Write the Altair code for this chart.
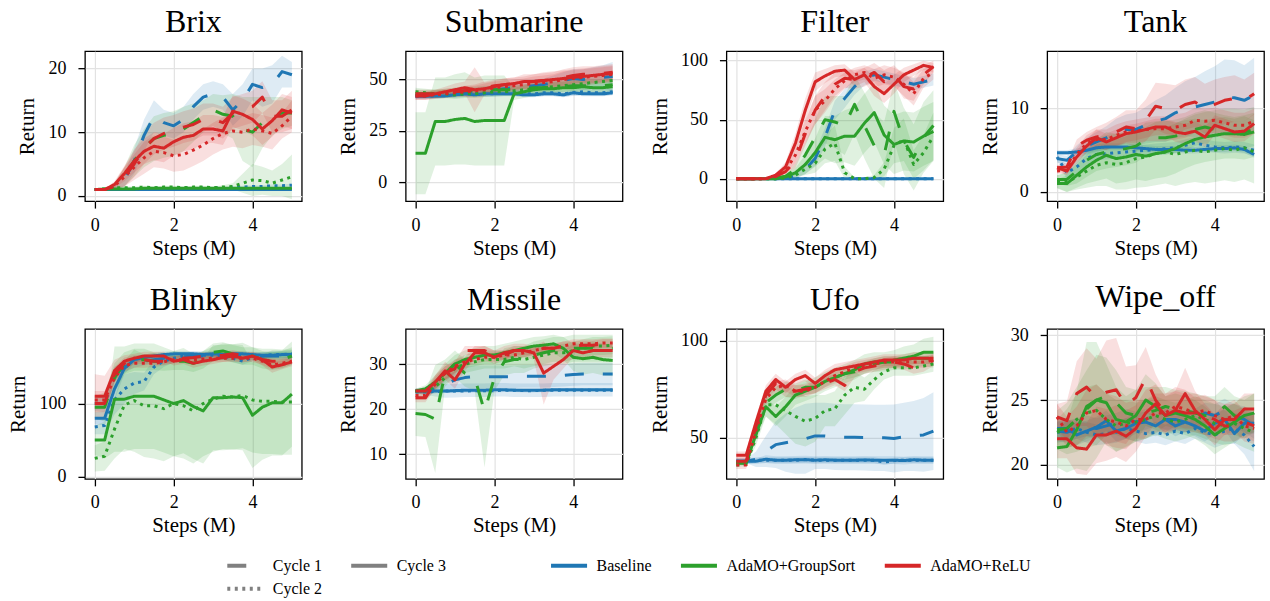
import altair as alt
import pandas as pd

STEPS = [0.0, 0.25, 0.5, 0.75, 1.0, 1.25, 1.5, 1.75, 2.0, 2.25, 2.5,
         2.75, 3.0, 3.25, 3.5, 3.75, 4.0, 4.25, 4.5, 4.75, 5.0]

METHODS = ["Baseline", "AdaMO+GroupSort", "AdaMO+ReLU"]
METHOD_COLORS = ["#1f77b4", "#2ca02c", "#d62728"]
METHOD_BY_CODE = {"B": "Baseline", "G": "AdaMO+GroupSort", "R": "AdaMO+ReLU"}
CYCLE_ORDER = ["Cycle 1", "Cycle 3", "Cycle 2"]
CYCLE_DASHES = [[19, 19], [1, 0], [3, 4.5]]
SERIES = ["B1", "B2", "B3", "G1", "G2", "G3", "R1", "R2", "R3"]

# ---------------- Brix ----------------
BRIX_MEAN = {
    "B1": [1.0, 1.0, 1.3, 2.5, 5.5, 9.5, 12.5, 11.5, 11.0, 12.0, 14.0, 15.5, 16.0, 15.5, 13.5, 15.0, 17.5, 17.0, 17.5, 19.5, 19.0],
    "B2": [1.0, 1.0, 1.0, 1.1, 1.1, 1.1, 1.2, 1.2, 1.2, 1.2, 1.3, 1.3, 1.3, 1.3, 1.4, 1.4, 1.5, 1.5, 1.6, 1.6, 1.7],
    "B3": [1.0, 1.0, 1.0, 1.0, 1.0, 1.0, 1.0, 1.0, 1.0, 1.0, 1.0, 1.0, 1.0, 1.0, 1.0, 1.0, 1.0, 1.0, 1.0, 1.0, 1.0],
    "G1": [1.0, 1.0, 1.5, 3.0, 5.5, 7.5, 9.0, 9.5, 9.8, 10.5, 11.5, 12.5, 13.5, 12.8, 12.5, 10.5, 10.0, 11.5, 12.5, 13.0, 13.0],
    "G2": [1.0, 1.1, 1.3, 1.3, 1.3, 1.4, 1.3, 1.4, 1.4, 1.3, 1.4, 1.4, 1.3, 1.4, 1.5, 2.0, 2.5, 2.4, 2.0, 2.5, 3.0],
    "G3": [1.0, 1.1, 1.1, 1.1, 1.1, 1.2, 1.2, 1.2, 1.2, 1.2, 1.2, 1.2, 1.2, 1.2, 1.2, 1.2, 1.2, 1.2, 1.2, 1.2, 1.2],
    "R1": [1.0, 1.0, 1.5, 3.0, 5.0, 7.5, 9.0, 9.8, 10.2, 10.8, 11.2, 12.0, 12.0, 11.5, 13.0, 13.5, 14.0, 15.5, 12.5, 12.5, 13.5],
    "R2": [1.0, 1.0, 1.6, 3.0, 4.5, 6.0, 7.0, 6.8, 6.3, 6.5, 7.2, 8.0, 9.0, 9.8, 10.2, 10.0, 10.5, 10.2, 9.8, 11.0, 12.5],
    "R3": [1.0, 1.0, 1.8, 3.5, 5.5, 7.0, 7.8, 7.5, 8.5, 9.2, 9.5, 10.5, 10.5, 10.2, 13.3, 12.8, 12.0, 10.5, 11.8, 13.5, 13.0],
}
BRIX_SD = {
    "B1": [0.1, 0.1, 0.3, 1.0, 2.0, 2.5, 2.5, 2.0, 2.0, 2.0, 2.0, 2.0, 2.0, 2.0, 2.5, 2.5, 2.5, 3.0, 3.0, 2.5, 2.0],
    "B2": [0.05, 0.05, 0.1, 0.1, 0.1, 0.1, 0.1, 0.1, 0.1, 0.1, 0.1, 0.1, 0.1, 0.1, 0.1, 0.2, 0.2, 0.2, 0.2, 0.2, 0.2],
    "B3": [0.05, 0.05, 0.05, 0.05, 0.05, 0.05, 0.05, 0.05, 0.05, 0.05, 0.05, 0.05, 0.05, 0.05, 0.05, 0.05, 0.05, 0.05, 0.05, 0.05, 0.05],
    "G1": [0.1, 0.1, 0.5, 1.5, 2.5, 3.0, 3.5, 3.5, 3.5, 3.5, 3.0, 2.5, 2.5, 3.0, 3.5, 5.0, 5.5, 4.0, 3.0, 2.5, 2.0],
    "G2": [0.1, 0.1, 0.2, 0.2, 0.2, 0.2, 0.2, 0.2, 0.2, 0.2, 0.2, 0.2, 0.2, 0.3, 0.5, 1.5, 2.5, 2.2, 2.0, 2.5, 3.5],
    "G3": [0.05, 0.1, 0.1, 0.1, 0.1, 0.1, 0.1, 0.1, 0.1, 0.1, 0.1, 0.1, 0.1, 0.1, 0.1, 0.1, 0.1, 0.1, 0.1, 0.1, 0.1],
    "R1": [0.1, 0.1, 0.5, 1.5, 2.0, 2.5, 2.5, 2.5, 2.5, 2.5, 2.5, 2.5, 2.5, 2.5, 2.5, 2.5, 2.5, 2.5, 2.5, 2.5, 3.0],
    "R2": [0.1, 0.1, 0.5, 1.5, 2.0, 2.5, 2.5, 2.5, 2.5, 2.5, 2.5, 2.5, 2.5, 2.5, 2.5, 2.5, 2.5, 2.5, 2.5, 2.0, 2.5],
    "R3": [0.1, 0.1, 0.5, 1.2, 1.8, 2.0, 2.2, 2.2, 2.2, 2.2, 2.2, 2.2, 2.2, 2.2, 2.5, 2.5, 2.5, 2.5, 2.5, 2.5, 2.5],
}

# ---------------- Submarine ----------------
SUB_MEAN = {
    "B1": [42, 42, 42.5, 43, 43.5, 43.5, 44, 44.5, 45, 45.5, 46, 46.5, 47, 47.5, 48.5, 49.5, 50.5, 50, 50.5, 51, 51.5],
    "B2": [42, 42, 42, 42.5, 42.5, 43, 43, 43, 43, 43.5, 43.5, 43, 43, 43.5, 43.5, 43, 43.5, 44, 43.5, 43.5, 44],
    "B3": [42, 42, 42, 42, 42.5, 43, 42.5, 43, 43, 43, 43, 42.5, 42.5, 43, 43, 42.5, 43.5, 43, 43, 43, 43.5],
    "G1": [43, 43, 43, 43.5, 44, 44.5, 44.5, 45, 45, 45, 45, 45.5, 46, 46, 46.5, 46.5, 47, 47, 47, 47, 47.5],
    "G2": [44, 43.5, 43, 43, 42.5, 43, 43, 43.5, 44, 44, 44.5, 45, 45.5, 46, 46.5, 47, 47.5, 48, 48.5, 49, 49.5],
    "G3": [14, 14, 29.5, 29.5, 30.5, 31, 29.5, 30, 30, 30, 43, 44, 45, 45.5, 45.5, 46, 46, 46.5, 46, 46, 46.5],
    "R1": [43, 43, 43, 43.5, 44, 44.5, 45, 46, 47, 47.5, 48, 48.5, 49, 49.5, 50, 51, 52, 52.5, 52.5, 53, 53.5],
    "R2": [42, 42, 42.5, 43, 43.5, 44, 44.5, 45, 46, 46.5, 47, 47.5, 48, 48.5, 49, 50, 50.5, 51, 51.5, 52, 52.5],
    "R3": [42, 42, 43, 44, 45, 46, 45, 45.5, 46.5, 47.5, 48, 49, 49, 49.5, 50, 50.5, 51, 51.5, 52, 52.5, 53],
}
SUB_SD = {
    "B1": [1.5, 1.5, 1.5, 1.5, 1.5, 1.5, 2, 2, 2, 2, 2.5, 2.5, 3, 3, 3.5, 4, 4.5, 5, 5.5, 6, 7],
    "B2": [1.5, 1.5, 1.5, 1.5, 1.5, 1.5, 1.5, 1.5, 1.5, 1.5, 1.5, 1.5, 1.5, 1.5, 1.5, 1.5, 1.5, 1.5, 1.5, 1.5, 1.5],
    "B3": [1.2, 1.2, 1.2, 1.2, 1.2, 1.2, 1.2, 1.2, 1.2, 1.2, 1.2, 1.2, 1.2, 1.2, 1.2, 1.2, 1.2, 1.2, 1.2, 1.2, 1.2],
    "G1": [2, 2, 2, 2, 2, 2, 2, 2, 2, 2, 2, 2, 2.5, 2.5, 2.5, 2.5, 3, 3, 3, 3, 3],
    "G2": [2, 2, 2, 2, 2, 2, 2, 2, 2, 2, 2.5, 2.5, 2.5, 2.5, 3, 3, 3, 3, 3, 3, 3],
    "G3": [20, 20, 21.5, 21.5, 22, 22.5, 21.5, 22, 22, 22, 3, 3, 3, 3, 3, 3, 3, 3, 3, 3, 3],
    "R1": [2, 2, 2, 2, 2, 2.5, 2.5, 3, 3, 3, 3, 3, 3.5, 3.5, 3.5, 4, 4, 4, 4, 4, 4],
    "R2": [2, 2, 2, 2, 2, 2.5, 2.5, 3, 3, 3, 3, 3, 3.5, 3.5, 3.5, 4, 4, 4, 4, 4, 4],
    "R3": [2, 2, 2, 2.5, 3, 3, 11, 3, 3, 3, 3, 3.5, 3.5, 4, 4, 4, 4, 4, 4, 4, 4],
}

# ---------------- Filter ----------------
FILTER_MEAN = {
    "B1": [0, 0, 0, 0, 0, 0.5, 2, 8, 17, 35, 58, 68, 78, 85, 88, 86, 84, 82, 80, 82, 84],
    "B2": [0, 0, 0, 0, 0, 0, 0, 0, 0, 0, 0, 0, 0, 0, 0, 0, 0, 0, 0, 0, 0],
    "B3": [0, 0, 0, 0, 0, 0, 0, 0, 0, 0, 0, 0, 0, 0, 0, 0, 0, 0, 0, 0, 0],
    "G1": [0, 0, 0, 0, 0.5, 2, 8, 20, 35, 50, 48, 45, 63, 45, 28, 20, 57, 32, 18, 35, 45],
    "G2": [0, 0, 0, 0, 0, 0.5, 3, 8, 13, 25, 30, 5, 0, 0, 1, 8, 28, 33, 12, 22, 36],
    "G3": [0, 0, 0, 0, 0, 1.5, 5, 12, 22, 35, 33, 36, 36, 47, 56, 37, 29, 32, 31, 36, 40],
    "R1": [0, 0, 0, 0, 2, 6, 15, 38, 58, 70, 80, 85, 84, 86, 90, 82, 88, 78, 76, 88, 95],
    "R2": [0, 0, 0, 0, 2, 7, 20, 40, 58, 66, 76, 83, 88, 90, 85, 88, 86, 80, 72, 85, 90],
    "R3": [0, 0, 0, 0, 3, 10, 30, 58, 82, 87, 91, 92, 84, 88, 78, 72, 80, 88, 92, 96, 94],
}
FILTER_SD = {
    "B1": [0, 0, 0, 0, 0, 0.5, 2, 4, 6, 8, 8, 8, 7, 6, 5, 5, 5, 5, 5, 5, 5],
    "B2": [0.3, 0.3, 0.3, 0.3, 0.3, 0.3, 0.3, 0.3, 0.3, 0.3, 0.3, 0.3, 0.3, 0.3, 0.3, 0.3, 0.3, 0.3, 0.3, 0.3, 0.3],
    "B3": [0.3, 0.3, 0.3, 0.3, 0.3, 0.3, 0.3, 0.3, 0.3, 0.3, 0.3, 0.3, 0.3, 0.3, 0.3, 0.3, 0.3, 0.3, 0.3, 0.3, 0.3],
    "G1": [0, 0, 0, 0, 0.5, 1.5, 5, 10, 15, 20, 22, 25, 25, 28, 28, 28, 25, 28, 28, 30, 30],
    "G2": [0, 0, 0, 0, 0, 0.5, 2, 5, 8, 12, 15, 5, 1, 1, 2, 6, 15, 18, 12, 15, 20],
    "G3": [0, 0, 0, 0, 0.5, 1.5, 4, 8, 12, 18, 20, 22, 25, 25, 25, 25, 25, 25, 25, 25, 25],
    "R1": [0, 0, 0, 0, 1, 3, 6, 10, 12, 12, 10, 8, 8, 8, 8, 10, 8, 10, 10, 8, 5],
    "R2": [0, 0, 0, 0, 1, 3, 7, 10, 12, 10, 8, 7, 6, 6, 8, 8, 8, 10, 10, 8, 6],
    "R3": [0, 0, 0, 0, 1.5, 4, 8, 10, 8, 6, 5, 5, 6, 6, 8, 8, 8, 6, 5, 4, 4],
}

# ---------------- Tank ----------------
TANK_MEAN = {
    "B1": [4.0, 3.8, 4.8, 5.5, 6.0, 6.5, 7.2, 7.5, 7.5, 8.0, 8.5, 8.8, 9.5, 10.0, 10.2, 10.5, 10.8, 11.4, 11.3, 11.0, 11.6],
    "B2": [4.2, 2.3, 3.0, 4.0, 4.5, 4.6, 4.7, 4.8, 4.9, 5.0, 5.1, 5.2, 5.3, 5.6, 5.9, 5.6, 5.4, 5.3, 5.4, 5.3, 5.0],
    "B3": [4.7, 4.7, 4.8, 5.0, 5.3, 5.4, 5.4, 5.4, 5.3, 5.2, 5.1, 5.1, 5.1, 5.0, 5.0, 5.1, 5.2, 5.2, 5.3, 5.1, 4.5],
    "G1": [1.5, 1.5, 2.5, 3.8, 4.5, 4.8, 5.0, 5.2, 5.5, 6.3, 6.5, 6.5, 6.7, 7.0, 7.5, 7.8, 7.5, 7.2, 7.0, 7.2, 7.5],
    "G2": [1.2, 1.2, 1.8, 2.5, 3.2, 3.5, 3.3, 3.5, 4.0, 4.2, 4.6, 4.8, 4.5, 4.8, 5.0, 4.8, 5.0, 5.2, 5.0, 5.3, 4.8],
    "G3": [1.0, 1.0, 2.0, 3.0, 3.8, 4.4, 4.0, 4.2, 4.5, 4.3, 4.6, 4.8, 5.2, 5.8, 6.3, 6.6, 6.8, 7.0, 7.0, 6.9, 7.2],
    "R1": [2.9, 3.0, 5.5, 6.2, 6.6, 6.8, 7.2, 7.8, 7.6, 8.6, 10.3, 10.0, 9.8, 10.5, 10.8, 10.0, 10.5, 11.0, 11.2, 11.0, 11.8],
    "R2": [2.5, 2.6, 4.5, 5.8, 6.3, 6.3, 6.8, 7.2, 7.3, 7.5, 7.6, 7.6, 7.8, 8.0, 8.6, 8.5, 8.6, 8.3, 8.0, 8.0, 8.5],
    "R3": [2.9, 2.5, 4.2, 5.5, 6.5, 6.0, 6.5, 7.0, 7.2, 7.5, 7.8, 7.8, 7.2, 7.0, 7.3, 6.6, 8.0, 7.6, 7.2, 7.3, 8.2],
}
TANK_SD = {
    "B1": [0.5, 0.5, 0.8, 1.0, 1.2, 1.4, 1.6, 1.8, 2.0, 2.2, 2.5, 2.8, 3.0, 3.3, 3.6, 4.0, 4.3, 4.5, 4.5, 4.2, 4.5],
    "B2": [0.4, 0.8, 0.8, 0.8, 0.7, 0.7, 0.7, 0.7, 0.7, 0.7, 0.7, 0.7, 0.7, 0.7, 0.7, 0.7, 0.7, 0.7, 0.7, 0.7, 0.7],
    "B3": [0.3, 0.3, 0.4, 0.4, 0.4, 0.4, 0.4, 0.4, 0.4, 0.4, 0.4, 0.4, 0.4, 0.4, 0.4, 0.4, 0.4, 0.4, 0.4, 0.4, 0.4],
    "G1": [0.5, 0.8, 1.5, 2.0, 2.0, 2.0, 2.0, 2.0, 2.0, 2.0, 2.0, 2.0, 2.0, 2.0, 2.0, 2.0, 2.0, 2.0, 2.0, 2.0, 2.0],
    "G2": [0.8, 1.2, 1.5, 2.0, 2.5, 2.8, 3.0, 3.2, 3.5, 3.6, 3.8, 3.8, 3.8, 3.8, 3.8, 3.8, 3.8, 3.8, 3.8, 3.8, 3.8],
    "G3": [0.5, 1.0, 1.5, 2.0, 2.5, 2.8, 3.0, 3.0, 3.0, 3.0, 3.0, 3.0, 3.0, 3.0, 3.0, 3.0, 3.0, 3.0, 3.0, 3.0, 3.0],
    "R1": [0.3, 0.5, 0.8, 1.0, 1.2, 1.5, 1.8, 2.0, 2.2, 2.5, 2.8, 3.0, 3.0, 3.0, 3.0, 3.0, 3.0, 2.8, 2.8, 2.5, 2.5],
    "R2": [0.3, 0.5, 0.8, 1.0, 1.2, 1.2, 1.3, 1.3, 1.4, 1.4, 1.5, 1.5, 1.5, 1.5, 1.5, 1.5, 1.5, 1.5, 1.5, 1.5, 1.5],
    "R3": [0.3, 0.5, 0.8, 0.8, 1.0, 1.0, 1.0, 1.0, 1.0, 1.0, 1.0, 1.0, 1.2, 1.2, 1.2, 1.2, 1.2, 1.2, 1.2, 1.2, 1.2],
}

# ---------------- Blinky ----------------
BLINKY_MEAN = {
    "B1": [100, 100, 140, 150, 155, 158, 160, 162, 163, 164, 165, 165, 165, 165, 165, 165, 165, 165, 165, 165, 165],
    "B2": [68, 70, 105, 120, 128, 130, 150, 158, 162, 165, 166, 166, 166, 165, 162, 158, 163, 165, 167, 167, 168],
    "B3": [80, 80, 120, 148, 160, 163, 165, 167, 168, 168, 168, 167, 168, 167, 168, 168, 167, 166, 166, 167, 167],
    "G1": [95, 95, 135, 155, 160, 160, 158, 157, 158, 158, 155, 160, 170, 172, 168, 165, 165, 160, 158, 160, 165],
    "G2": [25, 28, 65, 98, 104, 97, 97, 93, 100, 97, 90, 100, 106, 110, 109, 111, 105, 103, 103, 102, 102],
    "G3": [50, 50, 106, 106, 110, 110, 110, 105, 100, 104, 96, 90, 108, 108, 109, 108, 84, 95, 101, 101, 113],
    "R1": [100, 100, 140, 155, 160, 160, 158, 158, 160, 162, 163, 165, 165, 166, 168, 166, 165, 160, 158, 158, 160],
    "R2": [105, 105, 135, 152, 155, 155, 155, 157, 160, 160, 160, 161, 162, 162, 162, 162, 162, 158, 153, 155, 158],
    "R3": [110, 110, 145, 158, 162, 165, 165, 165, 158, 160, 155, 158, 160, 163, 165, 162, 165, 160, 150, 153, 157],
}
BLINKY_SD = {
    "B1": [10, 10, 10, 8, 6, 6, 5, 5, 5, 5, 5, 5, 5, 5, 5, 5, 5, 5, 5, 5, 5],
    "B2": [10, 12, 20, 20, 15, 12, 10, 8, 6, 5, 5, 5, 5, 5, 5, 5, 5, 5, 5, 5, 5],
    "B3": [8, 10, 15, 8, 5, 4, 4, 4, 4, 4, 4, 4, 4, 4, 4, 4, 4, 4, 4, 4, 4],
    "G1": [15, 20, 20, 15, 15, 15, 12, 12, 12, 12, 12, 12, 12, 12, 12, 12, 12, 12, 12, 12, 12],
    "G2": [18, 20, 40, 60, 70, 70, 72, 72, 72, 72, 72, 72, 72, 72, 72, 72, 72, 72, 72, 72, 72],
    "G3": [20, 25, 72, 72, 72, 72, 72, 72, 72, 72, 72, 72, 72, 72, 72, 72, 72, 72, 72, 72, 72],
    "R1": [12, 12, 10, 8, 6, 6, 5, 5, 5, 5, 5, 5, 5, 5, 5, 5, 5, 5, 5, 5, 5],
    "R2": [12, 12, 10, 8, 6, 6, 5, 5, 5, 5, 5, 5, 5, 5, 5, 5, 5, 5, 6, 6, 5],
    "R3": [30, 28, 15, 8, 6, 6, 6, 6, 6, 6, 6, 6, 6, 6, 6, 6, 6, 8, 8, 6, 6],
}

# ---------------- Missile ----------------
MISSILE_MEAN = {
    "B1": [24, 24, 24.5, 25.5, 26.5, 27, 27.2, 27.2, 27.2, 27.2, 27.2, 27.3, 27.3, 27.3, 27.4, 27.5, 27.7, 27.8, 27.8, 27.8, 27.8],
    "B2": [23.8, 23.8, 23.9, 24, 24, 24, 24.1, 24.1, 24.1, 24.2, 24.2, 24.1, 24.1, 24.2, 24.2, 24.2, 24.2, 24.2, 24.2, 24.2, 24.2],
    "B3": [24, 24, 24, 24, 24.1, 24.2, 24.2, 24.2, 24.3, 24.3, 24.2, 24.2, 24.2, 24.2, 24.3, 24.3, 24.3, 24.3, 24.3, 24.3, 24.3],
    "G1": [19, 18.8, 17.8, 28, 30, 28, 27, 19.5, 27, 30.5, 31, 31, 32, 32.5, 33, 33, 33.5, 33.5, 33.5, 33.5, 33.5],
    "G2": [24, 24, 25, 27, 29, 30, 30.5, 31, 31, 31, 31.5, 31, 31.5, 32, 32.5, 32.5, 33, 33.5, 34, 34, 34.2],
    "G3": [24, 24.5, 26, 28, 30, 31, 31.5, 32, 32, 32.5, 33, 33.5, 34, 34.2, 34.5, 33.5, 31.5, 31.2, 31.5, 31, 30.8],
    "R1": [22.5, 22.5, 26, 28, 29, 33, 33, 33, 32, 32, 33, 33, 33, 33.5, 33.5, 34, 34, 34.2, 34.2, 34.5, 34.5],
    "R2": [23, 23, 25.5, 28, 29.5, 30.5, 31, 31.5, 31.5, 32, 32, 32.5, 33, 33.5, 33.5, 34, 34.5, 34.5, 34.5, 34.7, 34.7],
    "R3": [24, 24, 26, 28.5, 26.5, 30, 32.5, 32.5, 31.5, 32.5, 33, 33, 32.5, 28, 29.5, 31, 33, 32.5, 33, 33, 33],
}
MISSILE_SD = {
    "B1": [0.5, 0.8, 1, 1.5, 2, 2.5, 2.5, 2.5, 2.5, 2.5, 2.5, 2.5, 2.5, 2.5, 2.5, 2.5, 2.5, 2.5, 2.5, 2.5, 2.5],
    "B2": [0.4, 0.4, 0.4, 0.4, 0.4, 0.4, 0.4, 0.4, 0.4, 0.4, 0.4, 0.4, 0.4, 0.4, 0.4, 0.4, 0.4, 0.4, 0.4, 0.4, 0.4],
    "B3": [0.5, 0.8, 1.2, 1.5, 1.5, 1.5, 1.5, 1.5, 1.5, 1.5, 1.5, 1.5, 1.5, 1.5, 1.5, 1.5, 1.5, 1.5, 1.5, 1.5, 1.5],
    "G1": [5, 5, 12, 3, 3, 3, 3, 12.5, 3, 3, 3, 3, 3, 3, 3, 3, 3, 3, 3, 3, 3],
    "G2": [0.5, 0.8, 1, 1.5, 2, 2, 2, 2, 2, 2, 2, 2, 2, 2, 2, 2, 2, 2, 2, 2, 2],
    "G3": [0.5, 0.8, 1.5, 2, 2, 2, 2, 2, 2, 2, 2, 2, 2, 2, 2, 2.5, 3, 3.5, 3.5, 3.5, 3.5],
    "R1": [1, 1, 1.5, 1.5, 1.5, 1, 1, 1, 1, 1, 1, 1, 1, 1, 1, 1, 1, 1, 1, 1, 1],
    "R2": [1, 1, 1.5, 1.5, 1.5, 1, 1, 1, 1, 1, 1, 1, 1, 1, 1, 1, 1, 1, 1, 1, 1],
    "R3": [0.5, 0.5, 1.5, 2, 2, 1.5, 1.5, 1.5, 1.5, 1.5, 1.5, 1.5, 1.5, 7, 3, 2, 1.5, 1.5, 1.5, 1.5, 1.5],
}

# ---------------- Ufo ----------------
UFO_MEAN = {
    "B1": [38, 38, 39, 43, 46.5, 47.5, 48.5, 49.5, 51, 51, 50.5, 50.3, 50.3, 50.2, 50, 50, 49.7, 50.5, 51, 51.5, 53.5],
    "B2": [38, 38, 38.5, 38.5, 38.5, 38.5, 38.5, 38.7, 38.5, 38.5, 38.5, 38.5, 38.5, 38.5, 38.5, 37.5, 38.3, 38.5, 38.5, 38.5, 38.5],
    "B3": [38, 38, 38, 39, 38.5, 38.5, 38.7, 38.8, 38.5, 38.7, 38.5, 38.5, 38.5, 38.6, 38.5, 38.5, 38.5, 38.3, 38.7, 38.5, 38.5],
    "G1": [37, 37, 52, 68, 72, 75, 74, 76, 76, 79, 81, 83, 84, 86, 88, 89, 89, 90, 91, 91, 91],
    "G2": [36, 36.5, 50, 67, 67, 64, 61, 58.5, 60, 64, 65, 72, 76, 75, 80, 84, 86, 86, 86, 87, 88],
    "G3": [37, 37, 52, 66, 61, 66, 72, 74, 76, 79, 81, 83, 85, 88, 89, 89, 90, 91, 92, 94, 94],
    "R1": [38, 38, 56, 72, 78, 74, 74, 75, 76, 78, 80, 77, 84, 86, 87, 88, 89, 88, 86, 87, 90],
    "R2": [36, 36, 54, 70, 76, 77, 74, 74, 76, 79, 82, 84, 86, 87, 88, 89, 89, 89, 89, 89, 90],
    "R3": [41, 41, 58, 74, 80, 76, 80, 82, 78, 82, 85, 86, 87, 88, 89, 90, 90, 90, 91, 91, 91],
}
UFO_SD = {
    "B1": [1, 1, 4, 8, 12, 15, 17, 18, 17, 17, 17, 17, 17, 17, 17, 17, 17.5, 17.5, 18, 19, 20],
    "B2": [1.5, 1.5, 1.5, 1.5, 1.5, 1.5, 1.5, 1.5, 1.5, 1.5, 1.5, 1.5, 1.5, 1.5, 1.5, 1.5, 1.5, 1.5, 1.5, 1.5, 1.5],
    "B3": [1.5, 1.5, 1.5, 2, 2, 2, 2, 2, 2, 2, 2, 2, 2, 2, 2, 2, 2, 2, 2, 2, 2],
    "G1": [1, 1, 3, 4, 4, 4, 4, 4, 3, 3, 3, 3, 3, 3, 3, 3, 3, 3, 3, 3, 3],
    "G2": [1, 1, 4, 6, 10, 12, 14, 13, 12, 8, 9, 10, 8, 6, 5, 4, 4, 4, 4, 4, 4],
    "G3": [1, 1, 3, 5, 5, 5, 5, 5, 5, 5, 5, 5, 5, 5, 5, 5, 5, 6, 6, 7, 8],
    "R1": [2, 2, 3, 3, 3, 3, 3, 3, 3, 3, 3, 3, 3, 3, 3, 3, 3, 3, 3, 3, 3],
    "R2": [2, 2, 3, 3, 3, 3, 3, 3, 3, 3, 3, 3, 3, 3, 3, 3, 3, 3, 3, 3, 3],
    "R3": [2, 2, 3, 3, 3, 3, 3, 3, 3, 3, 3, 3, 3, 3, 3, 3, 3, 3, 3, 3, 3],
}

# ---------------- Wipe_off ----------------
WIPE_MEAN = {
    "B1": [22.6, 22.5, 22.8, 23.0, 22.8, 23.0, 23.2, 23.5, 23.3, 23.5, 23.8, 23.5, 23.5, 23.3, 23.5, 24.0, 23.8, 24.2, 23.8, 23.5, 23.0],
    "B2": [22.5, 22.6, 22.8, 22.5, 22.3, 22.4, 22.5, 22.8, 22.6, 22.4, 22.5, 22.3, 22.6, 22.4, 22.8, 22.5, 22.3, 22.6, 22.8, 22.3, 21.4],
    "B3": [22.8, 22.8, 22.3, 22.6, 22.9, 23.4, 22.6, 22.8, 23.2, 23.3, 23.0, 23.5, 23.0, 23.3, 23.0, 22.6, 23.2, 23.5, 22.4, 23.2, 23.2],
    "G1": [22.7, 22.8, 23.5, 24.3, 25.0, 25.3, 24.8, 24.0, 23.8, 24.0, 24.2, 24.5, 24.3, 24.2, 24.0, 23.8, 23.8, 24.5, 23.8, 23.5, 24.0],
    "G2": [22.5, 22.8, 23.5, 24.0, 24.2, 23.5, 23.0, 23.2, 23.3, 23.5, 23.8, 23.5, 23.3, 23.5, 23.8, 23.5, 23.2, 23.0, 23.2, 22.8, 22.5],
    "G3": [21.3, 21.4, 22.7, 24.5, 25.0, 24.8, 23.5, 23.3, 23.8, 25.0, 24.5, 23.8, 24.0, 23.8, 23.5, 23.0, 22.3, 22.8, 23.3, 23.8, 24.0],
    "R1": [23.7, 23.4, 25.5, 26.0, 25.2, 25.6, 25.8, 24.6, 25.2, 26.7, 25.0, 24.0, 24.2, 24.0, 24.0, 23.8, 23.5, 23.0, 23.0, 23.3, 23.0],
    "R2": [23.7, 22.5, 23.0, 24.0, 24.2, 23.5, 23.3, 23.0, 23.5, 23.5, 24.0, 24.0, 24.5, 24.3, 24.0, 24.2, 23.8, 23.5, 23.8, 23.0, 22.8],
    "R3": [22.0, 22.0, 21.3, 21.2, 22.3, 22.3, 22.6, 22.2, 22.8, 24.0, 24.7, 23.8, 24.2, 25.5, 24.2, 23.5, 22.7, 23.5, 23.5, 24.3, 24.3],
}
WIPE_SD = {
    "B1": [0.8, 0.8, 0.8, 0.8, 0.8, 0.8, 0.8, 0.8, 0.8, 0.8, 0.8, 0.8, 0.8, 0.8, 0.8, 0.8, 0.9, 0.9, 0.9, 1.0, 1.0],
    "B2": [0.8, 0.8, 0.8, 0.8, 0.8, 0.8, 0.8, 0.8, 0.8, 0.8, 0.8, 0.8, 0.8, 0.8, 0.8, 0.8, 1.0, 1.0, 1.2, 1.5, 1.9],
    "B3": [0.8, 0.8, 0.8, 0.8, 0.8, 0.8, 0.8, 0.8, 0.8, 0.8, 0.8, 0.8, 0.8, 0.8, 0.8, 0.8, 0.8, 0.8, 0.8, 0.8, 0.8],
    "G1": [1.5, 2, 2.5, 3, 3.5, 3, 2.5, 2, 2, 2, 1.8, 1.5, 1.5, 1.5, 1.5, 1.5, 1.5, 1.5, 1.5, 1.5, 1.5],
    "G2": [1, 1.5, 2, 2, 2, 2, 2, 1.8, 1.5, 1.5, 1.5, 1.5, 1.5, 1.5, 1.5, 1.5, 1.5, 1.5, 1.5, 1.5, 1.5],
    "G3": [1.5, 2, 3, 5, 4.5, 3, 2.5, 2, 2, 2, 1.8, 1.5, 1.5, 1.5, 1.5, 1.5, 1.5, 1.5, 1.5, 1.5, 1.5],
    "R1": [1, 1.5, 2.5, 3, 3, 4, 4, 3, 2.5, 2.4, 2, 1.5, 1.5, 1.5, 1.5, 1.5, 1.5, 1.2, 1.2, 1.2, 1.2],
    "R2": [1, 1.2, 1.5, 1.8, 2, 2, 2, 1.8, 1.5, 1.5, 1.5, 1.5, 1.5, 1.5, 1.2, 1.2, 1.2, 1.2, 1.2, 1.2, 1.2],
    "R3": [1.5, 1.5, 2, 2, 2.2, 2, 2, 2, 1.8, 1.8, 1.5, 1.5, 1.5, 2, 1.5, 1.2, 1.2, 1.2, 1.2, 1.2, 1.2],
}

GAMES = [
    ("Brix", BRIX_MEAN, BRIX_SD, [-0.8, 22.7], [0, 10, 20]),
    ("Submarine", SUB_MEAN, SUB_SD, [-9.3, 63.8], [0, 25, 50]),
    ("Filter", FILTER_MEAN, FILTER_SD, [-19, 108], [0, 50, 100]),
    ("Tank", TANK_MEAN, TANK_SD, [-1.1, 16.9], [0, 10]),
    ("Blinky", BLINKY_MEAN, BLINKY_SD, [-3, 202], [0, 100]),
    ("Missile", MISSILE_MEAN, MISSILE_SD, [4.5, 37.8], [10, 20, 30]),
    ("Ufo", UFO_MEAN, UFO_SD, [28.9, 106], [50, 100]),
    ("Wipe_off", WIPE_MEAN, WIPE_SD, [18.9, 30.5], [20, 25, 30]),
]

FONT = "Liberation Serif"
COLOR_OF = dict(zip(METHODS, METHOD_COLORS))

color_scale = alt.Scale(domain=METHODS, range=METHOD_COLORS)
dash_scale = alt.Scale(domain=CYCLE_ORDER, range=CYCLE_DASHES)

color_legend = alt.Legend(
    title=None, orient="none", legendX=464, legendY=507, direction="horizontal",
    columns=3, symbolType="stroke", symbolSize=1300, symbolStrokeWidth=4,
    labelFont=FONT, labelFontSize=16, labelColor="black", columnPadding=26,
    labelOffset=7, clipHeight=16, padding=0,
)
dash_legend = alt.Legend(
    title=None, orient="none", legendX=140, legendY=507, direction="horizontal",
    columns=2, symbolType="stroke", symbolSize=1300, symbolStrokeWidth=4,
    symbolStrokeColor="#808080", labelFont=FONT, labelFontSize=16, labelColor="black",
    columnPadding=26, rowPadding=7, labelOffset=7, clipHeight=16, padding=0,
)


def panel(title, means, sds, ydom, yticks):
    rows = []
    for key in SERIES:
        assert len(means[key]) == len(STEPS), (title, key, "mean")
        assert len(sds[key]) == len(STEPS), (title, key, "sd")
        method = METHOD_BY_CODE[key[0]]
        cycle = "Cycle " + key[1]
        for s, m, d in zip(STEPS, means[key], sds[key]):
            rows.append({"step": s, "mean": m, "lo": m - d, "hi": m + d,
                         "method": method, "band_color": COLOR_OF[method],
                         "cycle": cycle})
    df = pd.DataFrame(rows)
    xs = alt.Scale(domain=[-0.25, 5.25], nice=False, zero=False)
    ys = alt.Scale(domain=ydom, nice=False, zero=False)
    xax = alt.Axis(values=[0, 2, 4], title="Steps (M)", format="d",
                   titlePadding=3, labelPadding=8)
    yax = alt.Axis(values=yticks, title="Return", format="d",
                   titlePadding=10, labelPadding=12)
    base = alt.Chart(df)
    bands = base.mark_area(opacity=0.15, clip=True).encode(
        x=alt.X("step:Q", scale=xs, axis=xax),
        y=alt.Y("lo:Q", scale=ys, axis=yax),
        y2="hi:Q",
        fill=alt.Fill("band_color:N", scale=None),
        detail="cycle:N",
    )
    lines = base.mark_line(strokeWidth=3, clip=True, strokeJoin="round").encode(
        x=alt.X("step:Q", scale=xs, axis=xax),
        y=alt.Y("mean:Q", scale=ys, axis=yax),
        color=alt.Color("method:N", scale=color_scale, legend=color_legend),
        strokeDash=alt.StrokeDash("cycle:N", scale=dash_scale, legend=dash_legend),
    )
    return alt.layer(bands, lines).properties(width=217, height=150, title=title)


panels = [panel(*g) for g in GAMES]

chart = alt.concat(
    *panels, columns=4, spacing={"row": 128, "column": 104}, bounds="flush"
).configure(
    font=FONT,
    padding={"left": 7, "top": 5, "right": 5, "bottom": 5},
).configure_view(
    stroke="black", strokeWidth=1.3,
).configure_axis(
    labelFont=FONT, labelFontSize=18, labelColor="black",
    titleFont=FONT, titleFontSize=21, titleFontWeight="normal", titleColor="black",
    tickColor="black", tickWidth=1.3, tickSize=7,
    domain=False, grid=True, gridColor="#e2e2e2", gridWidth=1.2,
).configure_title(
    font=FONT, fontSize=32, fontWeight="normal", color="black",
    anchor="middle", baseline="alphabetic", offset=12,
)

chart.save("out.html", embed_options={"renderer": "svg", "actions": False})
